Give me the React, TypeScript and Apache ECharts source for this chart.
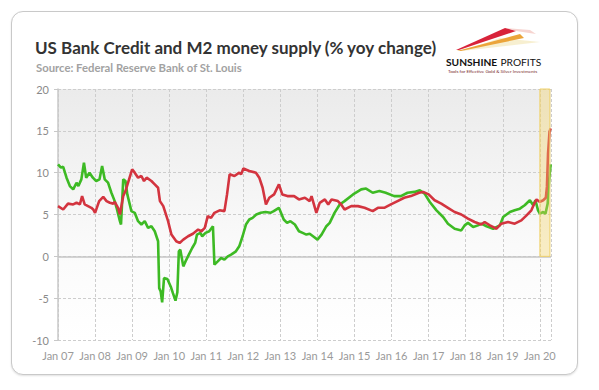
import React, { useEffect, useRef } from "react";
import * as echarts from "echarts";

const creditYears = [2007.00,2007.08,2007.14,2007.23,2007.32,2007.41,2007.50,2007.55,2007.63,2007.70,2007.76,2007.85,2007.94,2008.03,2008.12,2008.19,2008.26,2008.35,2008.44,2008.53,2008.58,2008.67,2008.70,2008.76,2008.82,2008.87,2008.98,2009.07,2009.16,2009.25,2009.34,2009.43,2009.52,2009.61,2009.70,2009.73,2009.77,2009.81,2009.86,2009.95,2010.04,2010.10,2010.17,2010.22,2010.26,2010.30,2010.38,2010.44,2010.53,2010.62,2010.70,2010.75,2010.84,2010.89,2010.98,2011.08,2011.18,2011.22,2011.31,2011.40,2011.49,2011.58,2011.67,2011.80,2011.89,2011.98,2012.07,2012.16,2012.25,2012.35,2012.47,2012.60,2012.73,2012.82,2012.96,2013.09,2013.18,2013.27,2013.39,2013.50,2013.60,2013.70,2013.79,2013.88,2014.00,2014.11,2014.24,2014.33,2014.46,2014.60,2014.73,2014.96,2015.18,2015.31,2015.49,2015.67,2015.84,2016.07,2016.25,2016.43,2016.62,2016.76,2016.89,2017.03,2017.21,2017.39,2017.52,2017.70,2017.88,2017.97,2018.06,2018.20,2018.33,2018.42,2018.56,2018.74,2018.92,2019.01,2019.19,2019.32,2019.46,2019.59,2019.73,2019.82,2019.88,2019.95,2020.00,2020.09,2020.15,2020.21,2020.25,2020.29];
const creditValues = [11.0,10.6,10.7,9.4,8.4,8.0,8.8,8.4,9.2,11.2,9.4,10.0,9.4,9.0,9.2,10.8,9.2,8.8,7.6,6.6,5.8,4.2,3.8,9.2,9.0,7.4,5.4,5.2,4.2,3.8,4.2,3.4,3.6,3.0,1.8,-3.8,-4.2,-5.5,-2.6,-2.7,-3.6,-4.4,-5.3,-4.3,0.6,0.8,-1.2,-0.6,0.2,1.0,1.6,2.6,2.8,2.4,2.8,3.0,3.6,-1.0,-0.6,-0.2,-0.4,0.0,0.2,0.6,1.2,2.4,3.8,4.4,4.6,5.0,5.2,5.3,5.2,5.4,5.8,4.4,4.0,4.2,3.8,3.0,2.8,2.6,2.7,2.4,2.0,2.6,3.6,4.0,5.2,6.2,6.6,7.4,8.0,8.1,7.6,7.8,7.6,7.2,7.2,7.6,7.7,7.9,7.5,6.5,5.5,4.7,3.9,3.3,3.1,3.7,4.0,3.5,3.7,3.9,3.6,3.3,3.7,4.7,5.3,5.5,5.7,6.1,6.7,6.1,6.7,5.5,5.1,5.3,5.1,6.3,9.1,11.0];

const m2Years = [2007.00,2007.14,2007.27,2007.41,2007.50,2007.59,2007.65,2007.72,2007.81,2007.90,2007.95,2008.00,2008.11,2008.22,2008.31,2008.40,2008.49,2008.53,2008.62,2008.67,2008.76,2008.82,2008.89,2009.00,2009.07,2009.16,2009.25,2009.32,2009.39,2009.52,2009.61,2009.70,2009.75,2009.84,2009.97,2010.06,2010.19,2010.28,2010.38,2010.51,2010.64,2010.78,2010.87,2010.96,2011.04,2011.13,2011.22,2011.36,2011.49,2011.56,2011.63,2011.76,2011.89,2011.94,2012.00,2012.16,2012.34,2012.43,2012.52,2012.61,2012.70,2012.83,2012.96,2013.05,2013.19,2013.37,2013.50,2013.66,2013.79,2013.84,2013.97,2014.06,2014.20,2014.29,2014.38,2014.55,2014.64,2014.73,2014.91,2015.09,2015.27,2015.49,2015.63,2015.80,2015.98,2016.16,2016.34,2016.52,2016.74,2016.85,2017.00,2017.16,2017.34,2017.52,2017.70,2017.88,2018.06,2018.24,2018.42,2018.51,2018.65,2018.83,2018.96,2019.14,2019.32,2019.50,2019.64,2019.77,2019.86,2019.91,2020.00,2020.09,2020.16,2020.19,2020.22,2020.26,2020.29];
const m2Values = [6.0,5.6,6.3,6.2,6.4,6.2,7.2,6.2,6.0,5.8,5.6,5.2,6.6,7.1,6.6,6.4,6.3,6.5,5.8,5.0,7.2,7.8,8.8,10.4,10.0,9.4,9.6,9.0,9.4,9.0,8.6,8.2,6.6,6.0,4.2,2.6,1.8,1.6,2.0,2.4,2.7,3.2,3.0,3.4,4.8,4.6,5.2,5.5,5.4,7.4,9.8,9.6,10.0,9.8,10.5,10.2,10.0,9.4,8.2,6.2,7.0,7.4,8.6,7.4,7.2,7.2,6.8,7.0,6.6,7.2,5.2,6.4,6.8,6.2,6.8,6.6,6.2,5.6,6.0,6.0,5.8,5.4,5.8,5.8,6.2,6.6,7.0,7.2,7.6,7.7,7.4,6.7,6.3,5.8,5.3,5.0,4.5,4.1,3.8,4.1,3.7,3.3,3.9,4.1,3.9,4.3,4.9,5.5,6.4,6.8,6.5,6.7,7.0,8.3,12.3,14.9,15.3];

const yTicks = { min: -10, max: 20, interval: 5 };
const xRange = { min: 2007, max: 2020.3 };
const highlight = { from: 2020.0, to: 2020.27, low: 0, high: 20 };

const titleText = "US Bank Credit and M2 money supply (% yoy change)";
const subtitleText = "Source: Federal Reserve Bank of St. Louis";

export default function App() {
  const ref = useRef<HTMLDivElement>(null);
  useEffect(() => {
    if (!ref.current) return;
    const chart = echarts.init(ref.current, undefined, { renderer: "svg" });
    const zip = (xs: number[], ys: number[]) => xs.map((x, i) => [x, ys[i]]);
    const font = "Lato, 'Open Sans', sans-serif";
    chart.setOption({
      animation: false,
      textStyle: { fontFamily: font },
      grid: {
        left: 58,
        right: 48,
        top: 89,
        bottom: 50,
        show: true,
        borderWidth: 0,
        backgroundColor: new echarts.graphic.LinearGradient(0, 0, 0, 1, [
          { offset: 0, color: "#ebebeb" },
          { offset: 0.62, color: "#fafafa" },
          { offset: 1, color: "#ffffff" },
        ]),
      },
      xAxis: {
        type: "value",
        min: xRange.min,
        max: xRange.max,
        interval: 1,
        axisLine: { show: false },
        axisTick: { show: false },
        axisLabel: {
          color: "#9a9a9a",
          fontSize: 11,
          margin: 10,
          fontFamily: font,
          formatter: (v: number) =>
            Math.abs(v - Math.round(v)) < 1e-6 ? "Jan " + String(Math.round(v)).slice(2) : "",
        },
        splitLine: { show: true, lineStyle: { color: "#cdcdcd", type: [3, 2], width: 1 } },
      },
      yAxis: {
        type: "value",
        min: yTicks.min,
        max: yTicks.max,
        interval: yTicks.interval,
        axisLine: { show: true, lineStyle: { color: "#c8c8c8", width: 1.5 } },
        axisTick: { show: true, length: 4, lineStyle: { color: "#c8c8c8" } },
        axisLabel: { color: "#8a8a8a", fontSize: 11, margin: 9, fontFamily: font },
        splitLine: { show: true, lineStyle: { color: "#cdcdcd", type: [3, 2], width: 1 } },
      },
      series: [
        {
          type: "line",
          name: "zero",
          data: [],
          z: 1,
          silent: true,
          markLine: {
            silent: true,
            z: 1,
            symbol: "none",
            label: { show: false },
            lineStyle: { color: "#c6c6c6", type: "solid", width: 1.5 },
            data: [{ yAxis: 0 }],
          },
        },
        {
          type: "line",
          name: "Bank Credit",
          data: zip(creditYears, creditValues),
          showSymbol: false,
          z: 3,
          lineStyle: { color: "#3dba24", width: 2.6 },
          itemStyle: { color: "#3dba24" },
        },
        {
          type: "line",
          name: "M2",
          data: zip(m2Years, m2Values),
          showSymbol: false,
          z: 4,
          lineStyle: { color: "#d3343f", width: 2.6 },
          itemStyle: { color: "#d3343f" },
        },
        {
          type: "line",
          name: "highlight",
          data: [],
          z: 6,
          silent: true,
          markArea: {
            silent: true,
            z: 10,
            itemStyle: {
              color: "rgba(244, 212, 100, 0.36)",
              borderColor: "#f1d26a",
              borderWidth: 1,
            },
            data: [[{ xAxis: highlight.from, yAxis: highlight.low }, { xAxis: highlight.to, yAxis: highlight.high }]],
          },
        },
      ],
      graphic: [
        {
          type: "text",
          x: 35,
          y: 47,
          style: {
            text: titleText,
            fontFamily: font,
            fontSize: 17,
            fontWeight: "bold",
            fill: "#333333",
            verticalAlign: "middle",
          },
        },
        {
          type: "text",
          x: 36,
          y: 67,
          style: {
            text: subtitleText,
            fontFamily: font,
            fontSize: 11.3,
            fontWeight: "bold",
            fill: "#a2a2a2",
            verticalAlign: "middle",
          },
        },
        {
          type: "polygon",
          shape: { points: [[540, 42], [500, 38], [462, 51]] },
          style: { fill: "rgba(240, 225, 170, 0.55)" },
        },
        {
          type: "polygon",
          shape: { points: [[457, 51], [520, 34], [524, 38], [461, 51]] },
          style: { fill: "#eba43a" },
        },
        {
          type: "polygon",
          shape: { points: [[456, 50], [505, 28], [516, 31], [459, 50]] },
          style: { fill: "#d8233a" },
        },
        {
          type: "polygon",
          shape: { points: [[516, 31], [506, 28], [530, 30], [536, 34]] },
          style: { fill: "rgba(235, 160, 150, 0.45)" },
        },
        {
          type: "text",
          x: 446,
          y: 62,
          style: {
            text: "{a|SUNSHINE} {b|PROFITS}",
            verticalAlign: "middle",
            rich: {
              a: { fontFamily: font, fontSize: 10.2, fontWeight: "bold", fill: "#111", color: "#111" },
              b: { fontFamily: font, fontSize: 10.2, fontWeight: "normal", fill: "#111", color: "#111" },
            },
          },
        },
        {
          type: "text",
          x: 448,
          y: 70.5,
          style: {
            text: "Tools for Effective Gold & Silver Investments",
            fontFamily: font,
            fontSize: 4.6,
            fill: "#7a2a2a",
            verticalAlign: "middle",
          },
        },
      ],
    });
    return () => chart.dispose();
  }, []);

  return (
    <div style={{ position: "fixed", left: 0, top: 0, width: 599, height: 390, background: "#ffffff" }}>
      <div
        style={{
          position: "absolute",
          left: 11,
          top: 11,
          width: 565,
          height: 362,
          border: "1px solid #c9c9c9",
          borderRadius: 12,
          boxShadow: "0 1px 2px rgba(0,0,0,0.12)",
          background: "#ffffff",
        }}
      />
      <div ref={ref} style={{ position: "absolute", left: 0, top: 0, width: 599, height: 390 }} />
    </div>
  );
}
